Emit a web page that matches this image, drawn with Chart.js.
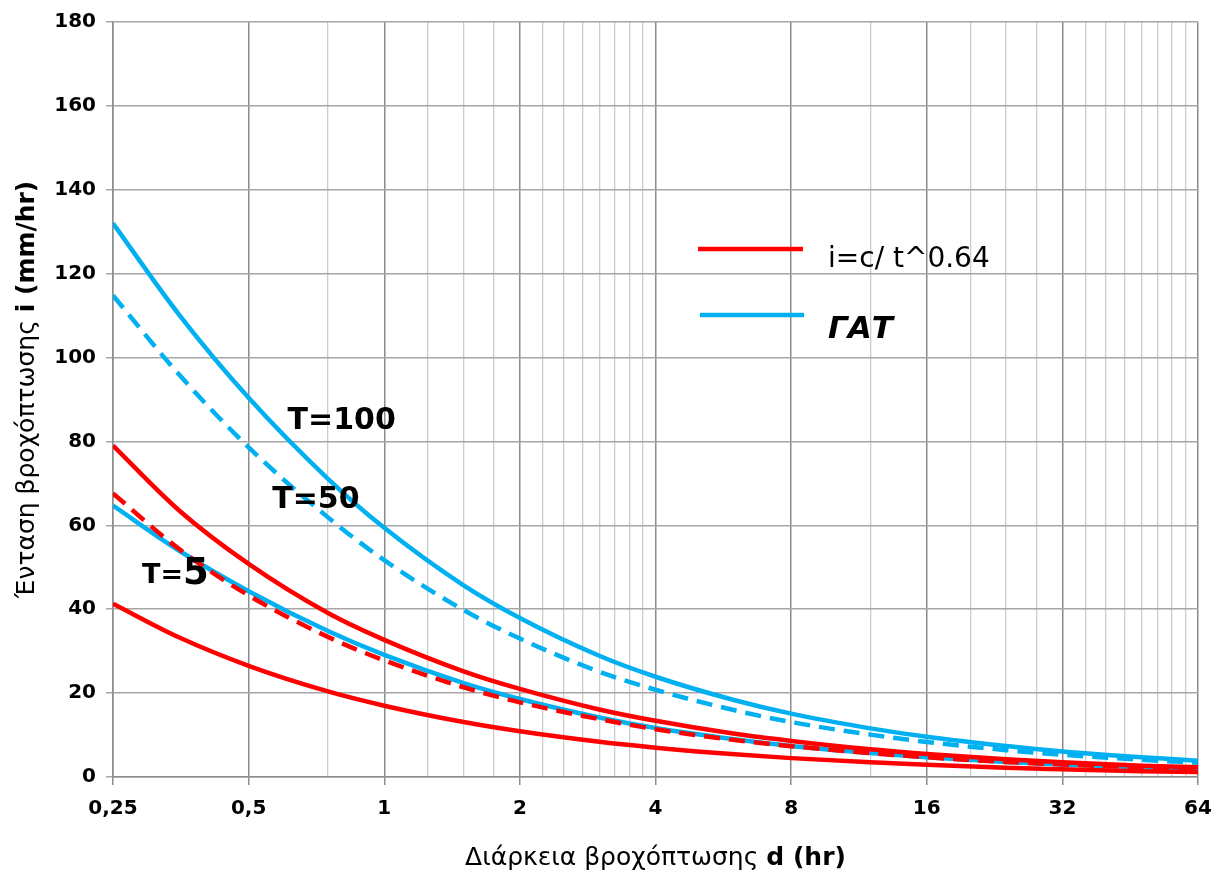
<!DOCTYPE html>
<html>
<head>
<meta charset="utf-8">
<title>Ένταση βροχόπτωσης</title>
<script src="https://cdn.jsdelivr.net/npm/chart.js@4/dist/chart.umd.min.js"></script>
<style>
	html, body { margin: 0; padding: 0; background: #fff; }
	#chart { display: block; }
</style>
</head>
<body>
<canvas id="chart" width="1217" height="873"></canvas>
<script>
// durations d (hr)
const durations = [0.25, 0.35, 0.5, 0.75, 1, 1.5, 2, 3, 4, 6, 8, 12, 16, 24, 32, 48, 64];

// i = c / t^0.64 (red)
const formulaT100 = [79, 63.6, 50.8, 39.1, 32.7, 25.2, 21, 16.1, 13.4, 10.3, 8.6, 6.6, 5.5, 4.25, 3.5, 2.7, 2.3];
const formulaT50 = [67.6, 54.4, 43.3, 33.4, 27.8, 21.4, 17.8, 13.8, 11.4, 8.8, 7.35, 5.7, 4.7, 3.6, 3.0, 2.3, 1.9];
const formulaT5 = [41.3, 33.3, 26.5, 20.4, 17, 13.1, 10.9, 8.4, 7, 5.4, 4.5, 3.5, 2.9, 2.2, 1.85, 1.4, 1.2];

// ΓΑΤ (blue)
const gatT100 = [132, 110.3, 90.4, 71.1, 59.4, 45.7, 37.9, 28.9, 23.9, 18.3, 15.1, 11.6, 9.6, 7.4, 6.1, 4.7, 3.9];
const gatT50 = [114.8, 96, 78.6, 61.9, 51.7, 39.8, 33, 25.1, 20.8, 15.9, 13.1, 10.1, 8.35, 6.4, 5.3, 4.1, 3.4];
const gatT5 = [64.7, 54, 44.3, 34.8, 29.1, 22.4, 18.6, 14.2, 11.7, 9, 7.4, 5.7, 4.7, 3.6, 3.0, 2.3, 1.9];

// axis ticks
const xMajorTicks = [0.25, 0.5, 1, 2, 4, 8, 16, 32, 64];
const xMinorTicks = [0.75, 1.25, 1.5, 1.75, 2.25, 2.5, 2.75, 3, 3.25, 3.5, 3.75,
	12, 20, 24, 28, 36, 40, 44, 48, 52, 56, 60];

const RED = '#ff0000';
const BLUE = '#00b0f0';
const FONT = '"DejaVu Sans", sans-serif';

function series(values, color, dashed) {
	return {
		data: durations.map((d, i) => ({ x: d, y: values[i] })),
		borderColor: color,
		backgroundColor: color,
		borderWidth: 4.5,
		borderDash: dashed ? [16, 9] : [],
		pointRadius: 0,
		cubicInterpolationMode: 'monotone',
		fill: false
	};
}

function isMajor(v) {
	return xMajorTicks.some(m => Math.abs(m - v) < 1e-9);
}

// axis titles: plain part + bold part
function drawMixed(ctx, parts, cx, cy) {
	let total = 0;
	for (let p of parts) {
		ctx.font = p.font;
		p.w = ctx.measureText(p.text).width;
		total += p.w;
	}
	let x = cx - total / 2;
	for (let p of parts) {
		ctx.font = p.font;
		ctx.fillText(p.text, x, cy);
		x += p.w;
	}
}

const axisTitles = {
	id: 'axisTitles',
	afterDraw(chart) {
		let ctx = chart.ctx;
		let area = chart.chartArea;
		ctx.save();
		ctx.fillStyle = '#000';
		ctx.textAlign = 'left';
		ctx.textBaseline = 'middle';
		drawMixed(ctx, [
			{ text: 'Διάρκεια βροχόπτωσης ', font: '25px ' + FONT },
			{ text: 'd (hr)', font: 'bold 25px ' + FONT }
		], (area.left + area.right) / 2, 858);

		ctx.translate(27, (area.top + area.bottom) / 2 - 10);
		ctx.rotate(-Math.PI / 2);
		drawMixed(ctx, [
			{ text: 'Ένταση βροχόπτωσης ', font: '25px ' + FONT },
			{ text: 'i (mm/hr)', font: 'bold 25px ' + FONT }
		], 0, 0);
		ctx.restore();
	}
};

// T= labels next to the curves, placed in data units
const curveLabels = {
	id: 'curveLabels',
	afterDatasetsDraw(chart) {
		let ctx = chart.ctx;
		let xs = chart.scales.x;
		let ys = chart.scales.y;
		ctx.save();
		ctx.fillStyle = '#000';
		ctx.textAlign = 'left';
		ctx.textBaseline = 'alphabetic';
		ctx.font = 'bold 30px ' + FONT;
		ctx.fillText('T=100', xs.getPixelForValue(0.61), ys.getPixelForValue(83));
		ctx.fillText('T=50', xs.getPixelForValue(0.564), ys.getPixelForValue(64.1));
		let x5 = xs.getPixelForValue(0.29);
		let y5 = ys.getPixelForValue(46.3);
		ctx.font = 'bold 27px ' + FONT;
		ctx.fillText('T=', x5, y5);
		let w = ctx.measureText('T=').width;
		ctx.font = 'bold 37px ' + FONT;
		ctx.fillText('5', x5 + w, y5 + 1);
		ctx.restore();
	}
};

// legend inside the plot
const innerLegend = {
	id: 'innerLegend',
	afterDatasetsDraw(chart) {
		let ctx = chart.ctx;
		ctx.save();
		ctx.lineWidth = 4.5;
		ctx.strokeStyle = RED;
		ctx.beginPath();
		ctx.moveTo(698, 249);
		ctx.lineTo(803, 249);
		ctx.stroke();
		ctx.strokeStyle = BLUE;
		ctx.beginPath();
		ctx.moveTo(700, 315);
		ctx.lineTo(804, 315);
		ctx.stroke();

		ctx.fillStyle = '#000';
		ctx.textAlign = 'left';
		ctx.textBaseline = 'alphabetic';
		ctx.font = '28px ' + FONT;
		ctx.fillText('i=c/ t^0.64', 828, 267);
		ctx.font = 'italic bold 31px ' + FONT;
		ctx.fillText('ΓΑΤ', 828, 338);
		ctx.restore();
	}
};

new Chart(document.getElementById('chart'), {
	type: 'line',
	data: {
		datasets: [
			series(formulaT100, RED, false),
			series(formulaT50, RED, true),
			series(formulaT5, RED, false),
			series(gatT100, BLUE, false),
			series(gatT50, BLUE, true),
			series(gatT5, BLUE, false)
		]
	},
	options: {
		responsive: false,
		animation: false,
		layout: { padding: { top: 19, right: 19, left: 0, bottom: 0 } },
		plugins: {
			legend: { display: false },
			tooltip: { enabled: false }
		},
		scales: {
			x: {
				type: 'logarithmic',
				min: 0.25,
				max: 64,
				afterBuildTicks: (scale) => {
					let all = xMajorTicks.concat(xMinorTicks).sort((a, b) => a - b);
					scale.ticks = all.map(v => ({ value: v, major: isMajor(v) }));
				},
				afterFit: (scale) => {
					scale.height = 96;
					// label overhang fits in the layout padding
					scale.paddingRight = 0;
					scale.paddingLeft = 0;
				},
				border: { color: '#8c8c8c', width: 1.5 },
				grid: {
					color: (c) => (c.tick && isMajor(c.tick.value)) ? '#8c8c8c' : '#cccccc',
					lineWidth: (c) => (c.tick && isMajor(c.tick.value)) ? 1.5 : 1.3,
					tickColor: (c) => (c.tick && isMajor(c.tick.value)) ? '#8c8c8c' : 'rgba(0,0,0,0)',
					tickLength: 8
				},
				ticks: {
					autoSkip: false,
					maxRotation: 0,
					padding: 12,
					color: '#000',
					font: { family: FONT, size: 20, weight: 'bold' },
					callback: (v) => isMajor(v) ? String(v).replace('.', ',') : ''
				}
			},
			y: {
				min: 0,
				max: 180,
				afterFit: (scale) => { scale.width = 113; },
				border: { color: '#8c8c8c', width: 1.5 },
				grid: {
					color: '#a6a6a6',
					lineWidth: 1.5,
					tickColor: '#a6a6a6',
					tickLength: 7
				},
				ticks: {
					stepSize: 20,
					padding: 10,
					color: '#000',
					font: { family: FONT, size: 20, weight: 'bold' }
				}
			}
		}
	},
	plugins: [curveLabels, innerLegend, axisTitles]
});
</script>
</body>
</html>
